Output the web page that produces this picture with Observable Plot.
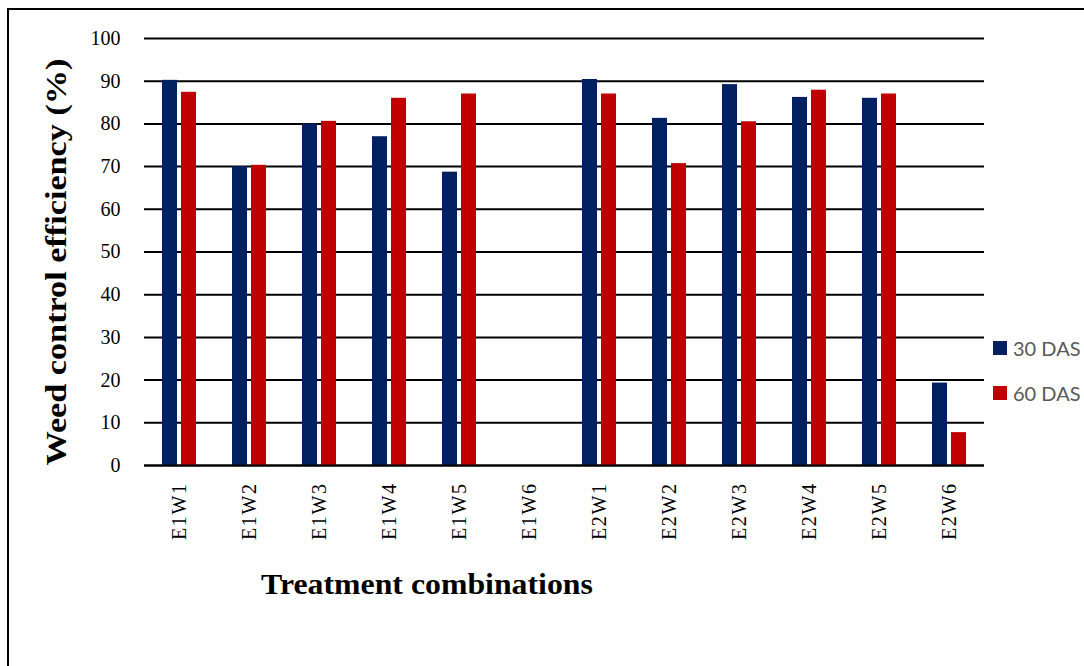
<!DOCTYPE html>
<html>
<head>
<meta charset="utf-8">
<script src="https://cdn.jsdelivr.net/npm/d3@7"></script>
<script src="https://cdn.jsdelivr.net/npm/@observablehq/plot@0.6"></script>
<style>
  html, body { margin: 0; padding: 0; background: #fff; overflow: hidden; }
  #wrap { position: relative; width: 1084px; height: 666px; overflow: hidden; }
  #frame { position: absolute; left: 7px; top: 8px; width: 1100px; height: 700px; border: 2px solid #000; box-sizing: border-box; }
  #chart { position: absolute; left: 0; top: 0; }
  #chart [aria-label="fx-axis tick label"] text { letter-spacing: 1.6px; }
  .ytitle { position: absolute; left: 56px; top: 262px; transform: translate(-50%, -50%) rotate(-90deg) scaleX(1.14);
    font: bold 30px "Liberation Serif", serif; white-space: nowrap; color: #000; }
  .xtitle { position: absolute; left: 427px; top: 584px; transform: translate(-50%, -50%) scaleX(1.06);
    font: bold 30px "Liberation Serif", serif; white-space: nowrap; color: #000; }
  .legend { position: absolute; left: 993px; font: 20px Lato, "Open Sans", sans-serif; color: #595959; }
  .legend .row { position: absolute; left: 0; white-space: nowrap; display: flex; align-items: center; }
  .legend .sw { width: 14px; height: 14px; margin-right: 6px; }
</style>
</head>
<body>
<div id="wrap">
  <div id="frame"></div>
  <div id="chart"></div>
  <div class="ytitle">Weed control efficiency (%)</div>
  <div class="xtitle">Treatment combinations</div>
  <div class="legend" id="legend"></div>
</div>
<script>
const categories = ["E1W1", "E1W2", "E1W3", "E1W4", "E1W5", "E1W6", "E2W1", "E2W2", "E2W3", "E2W4", "E2W5", "E2W6"];
const series = ["30 DAS", "60 DAS"];
const das30 = [90.2, 70.0, 80.0, 77.0, 68.7, 0, 90.4, 81.3, 89.2, 86.2, 86.0, 19.3];
const das60 = [87.4, 70.3, 80.6, 86.0, 87.0, 0, 87.0, 70.7, 80.5, 87.9, 87.0, 7.7];
const yTicks = [0, 10, 20, 30, 40, 50, 60, 70, 80, 90, 100];
const colors = ["#002060", "#C00000"];

const data = categories.flatMap((c, i) => [
  {cat: c, series: series[0], value: das30[i]},
  {cat: c, series: series[1], value: das60[i]}
]);

const chart = Plot.plot({
  width: 1084,
  height: 666,
  marginLeft: 140,
  marginRight: 97,
  marginTop: 38,
  marginBottom: 201,
  style: {fontFamily: "'Liberation Serif', serif", fontSize: "20px", color: "#000", background: "transparent", overflow: "visible"},
  fx: {domain: categories, padding: 0, label: null, tickRotate: -90, tickSize: 0, tickPadding: 17},
  x: {domain: series, paddingInner: 0.2, paddingOuter: 0.9, axis: null},
  y: {domain: [0, 100], ticks: yTicks, tickSize: 0, tickPadding: 24, label: null},
  color: {domain: series, range: colors},
  marks: [
    Plot.ruleY(yTicks, {stroke: "#000", strokeWidth: 2}),
    Plot.barY(data, {fx: "cat", x: "series", y: "value", fill: "series"}),
    Plot.ruleY([0], {stroke: "#000", strokeWidth: 2})
  ]
});
document.getElementById("chart").appendChild(chart);

const legend = document.getElementById("legend");
const legendTops = [336, 381];
series.forEach((s, i) => {
  const row = document.createElement("div");
  row.className = "row";
  row.style.top = legendTops[i] + "px";
  const sw = document.createElement("span");
  sw.className = "sw";
  sw.style.background = chart.scale("color").apply(s);
  const t = document.createElement("span");
  t.textContent = s;
  row.appendChild(sw);
  row.appendChild(t);
  legend.appendChild(row);
});
</script>
</body>
</html>
